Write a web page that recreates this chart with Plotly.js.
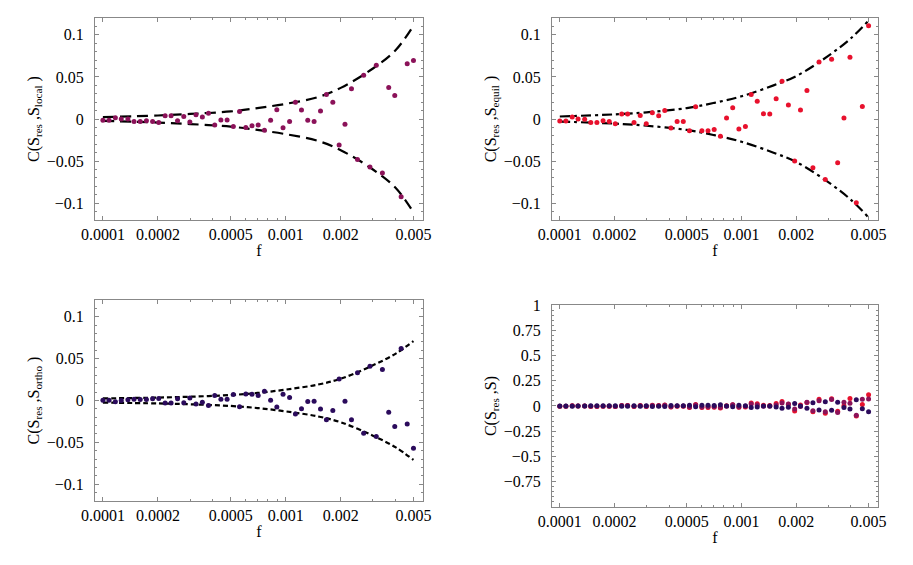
<!DOCTYPE html>
<html>
<head>
<meta charset="utf-8">
<script src="https://cdn.plot.ly/plotly-3.0.1.min.js"></script>
<style>
  html, body { margin: 0; padding: 0; background: #fff; }
  #chart { width: 913px; height: 565px; }
</style>
</head>
<body>
<div id="chart"></div>
<script>
// f values (log spaced, 0.0001 .. 0.005)
const fVals = [
  0.0001, 0.000108, 0.000117, 0.000126, 0.000137, 0.000148, 0.00016, 0.000173, 0.000187, 0.000202,
  0.000219, 0.000236, 0.000256, 0.000277, 0.000299, 0.000323, 0.00035, 0.000378, 0.000409, 0.000442,
  0.000478, 0.000517, 0.000559, 0.000605, 0.000654, 0.000707, 0.000765, 0.000827, 0.000894, 0.000967,
  0.00105, 0.00113, 0.00122, 0.00132, 0.00143, 0.00155, 0.00167, 0.00181, 0.00196, 0.00211,
  0.00229, 0.00247, 0.00267, 0.00289, 0.00313, 0.00338, 0.00366, 0.00395, 0.00428, 0.00462,
  0.005
];

// C(S_res, S_local)
const cLocal = [
  -0.0016, -0.0016, 0.0016, 0, 0, -0.003, -0.003, -0.002, -0.003, -0.004,
  0.004, 0.004, -0.002, 0.003, -0.0036, 0.005, 0.0024, 0.0067, -0.007, -0.0012,
  -0.0012, -0.009, 0.009, -0.010, -0.008, -0.007, -0.0134, -0.0016, 0.011, -0.0103,
  -0.003, 0.020, 0.0107, -0.0016, -0.003, 0.0095, 0.029, 0.020, -0.031, -0.0063,
  0.036, -0.048, 0.052, -0.057, 0.064, -0.064, 0.0375, 0.028, -0.0925, 0.0656,
  0.0696
];

// C(S_res, S_equil)
const cEquil = [
  -0.0024, -0.0024, 0.0024, 0, -0.0004, -0.004, -0.004, -0.002, -0.003, -0.0055,
  0.006, 0.006, -0.004, 0.0043, -0.0055, 0.0075, 0.004, 0.010, -0.0107, -0.003,
  -0.003, -0.014, 0.0146, -0.014, -0.014, -0.0126, -0.0206, 0.0012, 0.0134, -0.012,
  -0.009, 0.029, 0.021, 0.0063, 0.006, 0.024, 0.045, 0.0166, -0.050, 0.0107,
  0.034, -0.058, 0.0676, -0.072, 0.071, -0.052, 0.0012, 0.0735, -0.0996, 0.015,
  0.1107
];

// C(S_res, S_ortho)
const cOrtho = [
  0.0004, 0.0004, -0.0016, 0, 0.0008, 0.0016, 0.0012, 0.0012, 0.002, 0.0024,
  -0.003, -0.003, 0.002, -0.0028, 0.003, -0.0043, -0.002, -0.006, 0.006, 0.0016,
  0.0016, 0.0071, -0.0075, 0.0079, 0.0075, 0.006, 0.011, 0.0004, -0.0079, 0.0075,
  0.0035, -0.016, -0.0099, -0.0012, -0.0008, -0.010, -0.023, -0.012, 0.0256, -0.0008,
  -0.023, 0.033, -0.039, 0.041, -0.043, 0.037, -0.014, -0.031, 0.062, -0.028,
  -0.057
];

// envelope curves (upper bound; lower bound is the mirror)
const envF = [0.0001, 0.0002, 0.0003, 0.0005, 0.0007, 0.001, 0.0015, 0.002, 0.003, 0.004, 0.005];
const envLocal = [0.0022, 0.0042, 0.006, 0.009, 0.013, 0.018, 0.026, 0.037, 0.060, 0.082, 0.111];
const envEquil = [0.003, 0.0055, 0.008, 0.013, 0.019, 0.027, 0.040, 0.051, 0.075, 0.096, 0.117];
const envOrtho = [0.0025, 0.0035, 0.0045, 0.0065, 0.009, 0.013, 0.019, 0.026, 0.042, 0.056, 0.071];

// tick labels
const fTicks = [0.0001, 0.0002, 0.0005, 0.001, 0.002, 0.005];
const fTickText = ['0.0001', '0.0002', '0.0005', '0.001', '0.002', '0.005'];
const fMinor = [0.0003, 0.0004, 0.0006, 0.0007, 0.0008, 0.0009, 0.003, 0.004];
const yTicks = [0.1, 0.05, 0, -0.05, -0.1];
const yTickText = ['0.1', '0.05', '0', '\u22120.05', '\u22120.1'];
const yTicks4 = [1, 0.75, 0.5, 0.25, 0, -0.25, -0.5, -0.75];
const yTickText4 = ['1', '0.75', '0.5', '0.25', '0', '\u22120.25', '\u22120.5', '\u22120.75'];

const RED = '#e8112d';
const PURPLE = '#8b1259';
const NAVY = '#2b0b5c';
const FONT = '"Liberation Serif", "Times New Roman", serif';

function dots(y, color, xa, ya) {
    return {
        x: fVals, y: y, xaxis: xa, yaxis: ya,
        type: 'scatter', mode: 'markers',
        marker: { color: color, size: 5 },
        hoverinfo: 'skip'
    };
}

function envelope(env, sign, dash, xa, ya) {
    return {
        x: envF, y: env.map(v => sign * v), xaxis: xa, yaxis: ya,
        type: 'scatter', mode: 'lines',
        line: { color: '#000', width: 2.2, dash: dash, shape: 'spline', smoothing: 1 },
        hoverinfo: 'skip'
    };
}

function xAxis(domain, anchor) {
    return {
        type: 'log', domain: domain, anchor: anchor,
        range: [-4.043, -2.249],
        tickmode: 'array', tickvals: fTicks, ticktext: fTickText,
        ticks: 'inside', ticklen: 4, tickcolor: '#888', mirror: 'allticks',
        minor: { tickmode: 'array', tickvals: fMinor, ticks: 'inside', ticklen: 2, tickcolor: '#888' },
        showline: true, linecolor: '#888', linewidth: 1,
        showgrid: false, zeroline: false,
        tickfont: { family: FONT, size: 16, color: '#000' },
        title: { text: 'f', font: { family: FONT, size: 16, color: '#000' }, standoff: 2 }
    };
}

function yAxis(domain, anchor, title, range, vals, text, minorStep) {
    return {
        domain: domain, anchor: anchor, range: range,
        tickmode: 'array', tickvals: vals, ticktext: text,
        ticks: 'inside', ticklen: 4, tickcolor: '#888', mirror: 'allticks',
        minor: { dtick: minorStep, ticks: 'inside', ticklen: 2, tickcolor: '#888' },
        showline: true, linecolor: '#888', linewidth: 1,
        showgrid: false, zeroline: false,
        ticklabelstandoff: 7,
        tickfont: { family: FONT, size: 16, color: '#000' },
        title: { text: title, font: { family: FONT, size: 16, color: '#000' }, standoff: 3 }
    };
}

const traces = [
    envelope(envLocal, 1, '11px,6px', 'x', 'y'),
    envelope(envLocal, -1, '11px,6px', 'x', 'y'),
    dots(cLocal, PURPLE, 'x', 'y'),

    envelope(envEquil, 1, '10px,4px,3px,4px', 'x2', 'y2'),
    envelope(envEquil, -1, '10px,4px,3px,4px', 'x2', 'y2'),
    dots(cEquil, RED, 'x2', 'y2'),

    envelope(envOrtho, 1, '5px,3px', 'x3', 'y3'),
    envelope(envOrtho, -1, '5px,3px', 'x3', 'y3'),
    dots(cOrtho, NAVY, 'x3', 'y3'),

    dots(cEquil, RED, 'x4', 'y4'),
    dots(cLocal, PURPLE, 'x4', 'y4'),
    dots(cOrtho, NAVY, 'x4', 'y4')
];

const leftDom = [0.1041, 0.4633];
const rightDom = [0.6046, 0.9617];

const layout = {
    width: 913, height: 565,
    margin: { l: 0, r: 0, t: 0, b: 0 },
    paper_bgcolor: '#fff', plot_bgcolor: '#fff',
    showlegend: false,
    xaxis: xAxis(leftDom, 'y'),
    yaxis: yAxis([0.6106, 0.9681], 'x', 'C(S<sub>res</sub> ,S<sub>local</sub> )', [-0.12, 0.12], yTicks, yTickText, 0.01),
    xaxis2: xAxis(rightDom, 'y2'),
    yaxis2: yAxis([0.6106, 0.9681], 'x2', 'C(S<sub>res</sub> ,S<sub>equil</sub> )', [-0.12, 0.12], yTicks, yTickText, 0.01),
    xaxis3: xAxis(leftDom, 'y3'),
    yaxis3: yAxis([0.1133, 0.469], 'x3', 'C(S<sub>res</sub> ,S<sub>ortho</sub> )', [-0.12, 0.12], yTicks, yTickText, 0.01),
    xaxis4: xAxis(rightDom, 'y4'),
    yaxis4: yAxis([0.1027, 0.4602], 'x4', 'C(S<sub>res</sub> ,S)', [-1, 1], yTicks4, yTickText4, 0.05)
};

Plotly.newPlot('chart', traces, layout, { displayModeBar: false, staticPlot: true });
</script>
</body>
</html>
